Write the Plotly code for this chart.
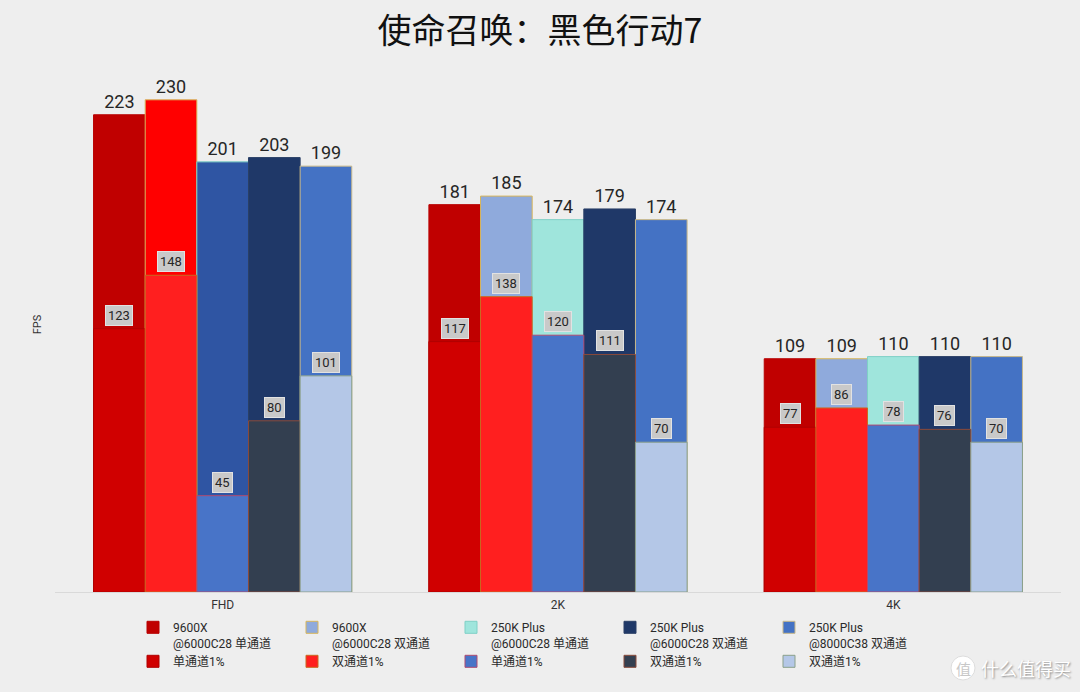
import plotly.graph_objects as go

categories = ["FHD", "2K", "4K"]

avg_names = [
    "9600X<br>@6000C28 单通道",
    "9600X<br>@6000C28 双通道",
    "250K Plus<br>@6000C28 单通道",
    "250K Plus<br>@6000C28 双通道",
    "250K Plus<br>@8000C38 双通道",
]
low_names = ["单通道1%", "双通道1%", "单通道1%", "双通道1%", "双通道1%"]

avg_values = [
    [223, 181, 109],
    [230, 185, 109],
    [201, 174, 110],
    [203, 179, 110],
    [199, 174, 110],
]
low_values = [
    [123, 117, 77],
    [148, 138, 86],
    [45, 120, 78],
    [80, 111, 76],
    [101, 70, 70],
]

avg_colors = [
    ["#c00000", "#c00000", "#c00000"],
    ["#ff0000", "#8faadc", "#8faadc"],
    ["#2f55a3", "#9fe5dc", "#9fe5dc"],
    ["#1f3868", "#1f3868", "#1f3868"],
    ["#4472c4", "#4472c4", "#4472c4"],
]
avg_legend_colors = ["#c00000", "#8faadc", "#9fe5dc", "#1f3868", "#4472c4"]
avg_line_colors = ["#b80000", "#d8b65a", "#7fd0c6", "#2a3f66", "#c8b88a"]
low_colors = ["#d00000", "#ff1f1f", "#4874c8", "#333f50", "#b4c7e7"]
low_line_colors = ["#b00000", "#c86a20", "#b04a70", "#8a4a3a", "#8aa08a"]

BARGAP = 0.23
N = len(avg_names)

W, H = 1080, 692
ML, MR, MT, MB = 55, 19, 57, 100
PW, PH = W - ML - MR, H - MT - MB


def px_x(x):
    return (x - ML) / PW


def px_y(y):
    return (H - MB - y) / PH


fig = go.Figure()

for i in range(N):
    fig.add_trace(go.Bar(
        x=categories, y=avg_values[i], name=avg_names[i],
        offsetgroup=str(i),
        marker=dict(color=avg_colors[i], line=dict(color=avg_line_colors[i], width=1)),
        text=[str(v) for v in avg_values[i]], textposition="outside",
        textfont=dict(size=18, color="#262626", family="Roboto, Arial, sans-serif"),
        cliponaxis=False, showlegend=False,
    ))

for i in range(N):
    fig.add_trace(go.Bar(
        x=categories, y=low_values[i], name=low_names[i],
        offsetgroup=str(i),
        marker=dict(color=low_colors[i], line=dict(color=low_line_colors[i], width=1)),
        showlegend=False,
    ))

# legend-only entries so that legend swatches show series colours
for i in range(N):
    fig.add_trace(go.Bar(
        x=[None], y=[None], name=avg_names[i], legend="legend",
        marker=dict(color=avg_legend_colors[i], line=dict(color=avg_line_colors[i], width=1)),
        showlegend=True,
    ))
for i in range(N):
    fig.add_trace(go.Bar(
        x=[None], y=[None], name=low_names[i], legend="legend2",
        marker=dict(color=low_colors[i], line=dict(color=low_line_colors[i], width=1)),
        showlegend=True,
    ))

slot = (1 - BARGAP) / N
annotations = []
for i in range(N):
    for g, v in enumerate(low_values[i]):
        annotations.append(dict(
            x=g + (i - (N - 1) / 2) * slot, y=v, xref="x", yref="y",
            text=str(v), showarrow=False, yanchor="bottom", yshift=3,
            font=dict(size=13, color="#262626", family="Roboto, Arial, sans-serif"),
            bgcolor="#c9c9c9", bordercolor="#e2e2e2", borderwidth=1, borderpad=2,
        ))

# watermark
annotations.append(dict(
    x=px_x(1026), y=px_y(668), xref="paper", yref="paper",
    xanchor="center", yanchor="middle",
    text="什么值得买", showarrow=False,
    font=dict(size=18, color="#ffffff", family="Noto Sans CJK SC", shadow="1px 1px 2px #8a8a8a"),
))
annotations.append(dict(
    x=px_x(963), y=px_y(668), xref="paper", yref="paper",
    xanchor="center", yanchor="middle",
    text="值", showarrow=False,
    font=dict(size=15, color="#c8c8c8", family="Noto Sans CJK SC"),
))

legend_common = dict(
    orientation="h", xref="container", yref="container",
    x=133 / W, xanchor="left", yanchor="top",
    entrywidth=114, entrywidthmode="pixels", valign="top",
    font=dict(size=12, color="#2a2a2a", family="Roboto, 'Noto Sans CJK SC', sans-serif"),
    bgcolor="rgba(0,0,0,0)", tracegroupgap=0, itemwidth=30,
)

fig.update_layout(
    width=W, height=H,
    margin=dict(l=ML, r=MR, t=MT, b=MB, autoexpand=False),
    paper_bgcolor="#eeeeee", plot_bgcolor="#eeeeee",
    barmode="group", bargap=BARGAP, bargroupgap=0,
    title=dict(
        text="使命召唤：黑色行动7", x=0.5, xanchor="center",
        y=1 - 31 / H, yanchor="middle",
        font=dict(size=34, color="#111111", family="Noto Sans CJK SC"),
    ),
    xaxis=dict(
        showgrid=False, showline=True, linecolor="#d9d9d9", linewidth=1,
        ticks="", tickfont=dict(size=12, color="#333333", family="Roboto, Arial, sans-serif"),
        ticklabelstandoff=2,
    ),
    yaxis=dict(
        range=[0, 250], showgrid=False, showticklabels=False, zeroline=False,
        title=dict(text="FPS", font=dict(size=11, color="#333333", family="Roboto, Arial, sans-serif"), standoff=10),
    ),
    legend=dict(legend_common, y=(H - 613) / H),
    legend2=dict(legend_common, y=(H - 647) / H),
    annotations=annotations,
    shapes=[dict(
        type="circle", xref="paper", yref="paper",
        x0=px_x(963 - 12), x1=px_x(963 + 12),
        y0=px_y(668 + 12), y1=px_y(668 - 12),
        fillcolor="#ffffff", line=dict(color="#dddddd", width=1),
    )],
)

fig.write_html("out.html")
